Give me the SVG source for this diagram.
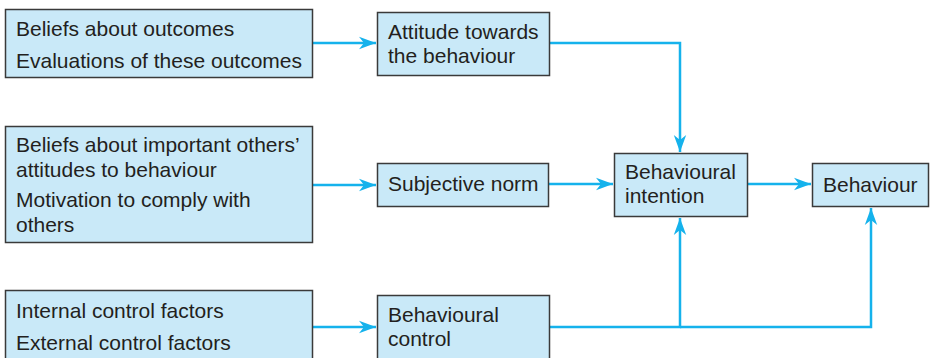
<svg xmlns="http://www.w3.org/2000/svg" width="932" height="358" viewBox="0 0 932 358">
  <style>
    .box { fill: #c9e9f8; stroke: #3a3a3a; stroke-width: 1.5; }
    .lbl { font-family: "Liberation Sans", Arial, sans-serif; font-size: 21px; fill: #231f20; }
    .wire { fill: none; stroke: #15b2ec; stroke-width: 2.5; }
  </style>
  <defs>
    <marker id="head" markerUnits="userSpaceOnUse" markerWidth="18" markerHeight="14" refX="17" refY="7" orient="auto">
      <path d="M0,0.8 L17,7 L0,13.2 L5,7 Z" fill="#15b2ec"/>
    </marker>
  </defs>
  <rect width="932" height="358" fill="#ffffff"/>

  <g id="connectors">
    <path class="wire" d="M313,43 H376" marker-end="url(#head)"/>
    <path class="wire" d="M313,185 H376" marker-end="url(#head)"/>
    <path class="wire" d="M313,327 H376" marker-end="url(#head)"/>
    <path class="wire" d="M550,43 H680 V152" marker-end="url(#head)"/>
    <path class="wire" d="M549,184 H613" marker-end="url(#head)"/>
    <path class="wire" d="M748,184 H811" marker-end="url(#head)"/>
    <path class="wire" d="M550,327 H680 V218" marker-end="url(#head)"/>
    <path class="wire" d="M680,327 H871 V208" marker-end="url(#head)"/>
  </g>

  <g id="outcomes">
    <rect class="box" x="5.5" y="9.5" width="307" height="68"/>
    <text class="lbl" x="16" y="36">Beliefs about outcomes</text>
    <text class="lbl" x="16" y="68">Evaluations of these outcomes</text>
  </g>

  <g id="attitude">
    <rect class="box" x="377.5" y="12.5" width="172" height="63"/>
    <text class="lbl" x="388" y="39">Attitude towards</text>
    <text class="lbl" x="388" y="63">the behaviour</text>
  </g>

  <g id="normative-beliefs">
    <rect class="box" x="5.5" y="126.5" width="307" height="116"/>
    <text class="lbl" x="16" y="152">Beliefs about important others’</text>
    <text class="lbl" x="16" y="177">attitudes to behaviour</text>
    <text class="lbl" x="16" y="207">Motivation to comply with</text>
    <text class="lbl" x="16" y="232">others</text>
  </g>

  <g id="subjective-norm">
    <rect class="box" x="377.5" y="163.5" width="171" height="43"/>
    <text class="lbl" x="388" y="191">Subjective norm</text>
  </g>

  <g id="intention">
    <rect class="box" x="614.5" y="153.5" width="133" height="63"/>
    <text class="lbl" x="625" y="179">Behavioural</text>
    <text class="lbl" x="625" y="203">intention</text>
  </g>

  <g id="behaviour">
    <rect class="box" x="812.5" y="163.5" width="116" height="43"/>
    <text class="lbl" x="823" y="191.5">Behaviour</text>
  </g>

  <g id="control-factors">
    <rect class="box" x="5.5" y="290.5" width="307" height="75"/>
    <text class="lbl" x="16" y="318">Internal control factors</text>
    <text class="lbl" x="16" y="350">External control factors</text>
  </g>

  <g id="behavioural-control">
    <rect class="box" x="377.5" y="295.5" width="172" height="70"/>
    <text class="lbl" x="388" y="322">Behavioural</text>
    <text class="lbl" x="388" y="346">control</text>
  </g>
</svg>
